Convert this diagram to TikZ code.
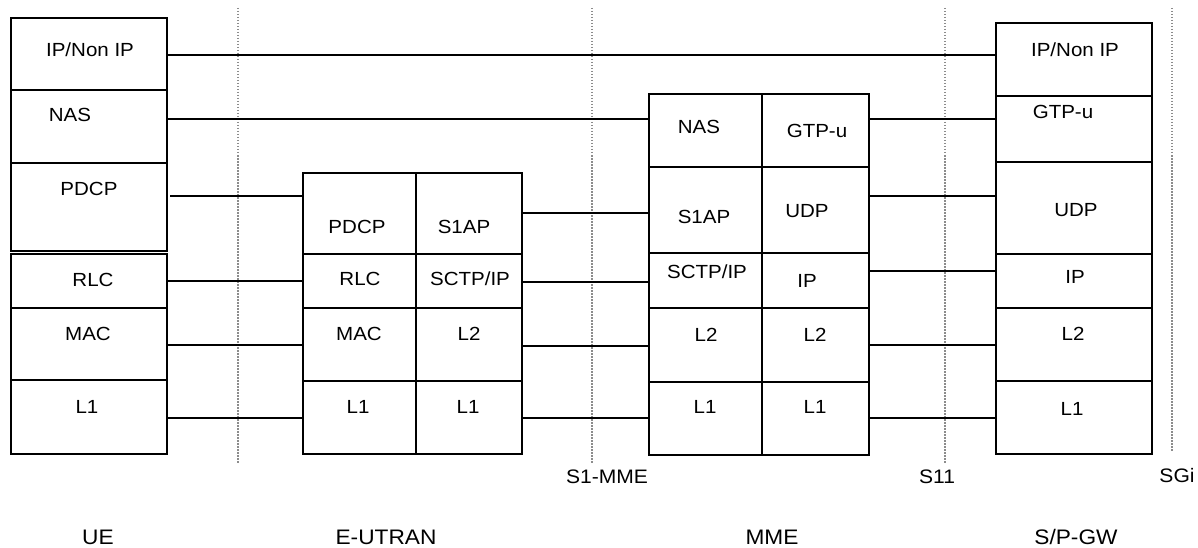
\documentclass[tikz,border=0pt]{standalone}
\usepackage{fontspec}
\setmainfont{Liberation Sans}[FakeStretch=1.08]
\begin{document}
\begin{tikzpicture}[x=1pt,y=-1pt,
  cell/.style={draw, line width=1.7pt, inner sep=0pt, outer sep=0pt, anchor=north west},
  txt/.style={anchor=base, inner sep=0pt, font=\fontsize{19}{19}\selectfont},
  iflabel/.style={anchor=base, inner sep=0pt, font=\fontsize{19.5}{20}\selectfont},
  nelabel/.style={anchor=base, inner sep=0pt, font=\fontsize{21}{22}\selectfont},
  conn/.style={line width=1.4pt},
  refline/.style={line width=2.2pt, draw=black!45, dash pattern=on 1.5pt off 1.5pt}]
\useasboundingbox (0,0) rectangle (1198,548);
% reference points (dotted lines)
\coordinate (d1t) at (238,8);  \coordinate (d1b) at (238,463);
\coordinate (d2t) at (592,8);  \coordinate (d2b) at (592,463);
\coordinate (d3t) at (945,8);  \coordinate (d3b) at (945,464);
\coordinate (d4t) at (1172,8); \coordinate (d4b) at (1172,452);
\draw[refline] (d1t) -- (d1b);
\draw[refline] (d2t) -- (d2b);
\draw[refline] (d3t) -- (d3b);
\draw[refline] (d4t) -- (d4b);
% UE
\node[cell, minimum width=156pt, minimum height=72pt] (ueIP)   at (11,18)  {};
\node[cell, minimum width=156pt, minimum height=73pt] (ueNAS)  at (11,90)  {};
\node[cell, minimum width=156pt, minimum height=88pt] (uePDCP) at (11,163) {};
\node[cell, minimum width=156pt, minimum height=54pt] (ueRLC)  at (11,254) {};
\node[cell, minimum width=156pt, minimum height=72pt] (ueMAC)  at (11,308) {};
\node[cell, minimum width=156pt, minimum height=74pt] (ueL1)   at (11,380) {};
% E-UTRAN
\node[cell, minimum width=113pt, minimum height=81pt] (enPDCP) at (303,173) {};
\node[cell, minimum width=106pt, minimum height=81pt] (enS1AP) at (416,173) {};
\node[cell, minimum width=113pt, minimum height=54pt] (enRLC)  at (303,254) {};
\node[cell, minimum width=106pt, minimum height=54pt] (enSCTP) at (416,254) {};
\node[cell, minimum width=113pt, minimum height=73pt] (enMAC)  at (303,308) {};
\node[cell, minimum width=106pt, minimum height=73pt] (enL2)   at (416,308) {};
\node[cell, minimum width=113pt, minimum height=73pt] (enL1)   at (303,381) {};
\node[cell, minimum width=106pt, minimum height=73pt] (enL1b)  at (416,381) {};
% MME
\node[cell, minimum width=113pt, minimum height=73pt] (mmNAS)  at (649,94)  {};
\node[cell, minimum width=107pt, minimum height=73pt] (mmGTP)  at (762,94)  {};
\node[cell, minimum width=113pt, minimum height=86pt] (mmS1AP) at (649,167) {};
\node[cell, minimum width=107pt, minimum height=86pt] (mmUDP)  at (762,167) {};
\node[cell, minimum width=113pt, minimum height=55pt] (mmSCTP) at (649,253) {};
\node[cell, minimum width=107pt, minimum height=55pt] (mmIP)   at (762,253) {};
\node[cell, minimum width=113pt, minimum height=74pt] (mmL2)   at (649,308) {};
\node[cell, minimum width=107pt, minimum height=74pt] (mmL2b)  at (762,308) {};
\node[cell, minimum width=113pt, minimum height=73pt] (mmL1)   at (649,382) {};
\node[cell, minimum width=107pt, minimum height=73pt] (mmL1b)  at (762,382) {};
% S/P-GW
\node[cell, minimum width=156pt, minimum height=73pt] (gwIP)   at (996,23)  {};
\node[cell, minimum width=156pt, minimum height=66pt] (gwGTP)  at (996,96)  {};
\node[cell, minimum width=156pt, minimum height=92pt] (gwUDP)  at (996,162) {};
\node[cell, minimum width=156pt, minimum height=54pt] (gwIP2)  at (996,254) {};
\node[cell, minimum width=156pt, minimum height=73pt] (gwL2)   at (996,308) {};
\node[cell, minimum width=156pt, minimum height=73pt] (gwL1)   at (996,381) {};
% texts UE
\node[txt] (tueIP)   at (90,57)  {IP/Non IP};
\node[txt] (tueNAS)  at (70,122) {NAS};
\node[txt] (tuePDCP) at (89,195) {PDCP};
\node[txt] (tueRLC)  at (93,286) {RLC};
\node[txt] (tueMAC)  at (88,340) {MAC};
\node[txt] (tueL1)   at (87,413) {L1};
% texts E-UTRAN
\node[txt] (tenPDCP) at (357,233) {PDCP};
\node[txt] (tenS1AP) at (464,233) {S1AP};
\node[txt] (tenRLC)  at (360,285) {RLC};
\node[txt] (tenSCTP) at (470,285) {SCTP/IP};
\node[txt] (tenMAC)  at (359,340) {MAC};
\node[txt] (tenL2)   at (469,340) {L2};
\node[txt] (tenL1)   at (358,413) {L1};
\node[txt] (tenL1b)  at (468,413) {L1};
% texts MME
\node[txt] (tmmNAS)  at (699,134) {NAS};
\node[txt] (tmmGTP)  at (817,138) {GTP-u};
\node[txt] (tmmS1AP) at (704,223) {S1AP};
\node[txt] (tmmUDP)  at (807,217) {UDP};
\node[txt] (tmmSCTP) at (707,278) {SCTP/IP};
\node[txt] (tmmIP)   at (807,287) {IP};
\node[txt] (tmmL2)   at (706,341) {L2};
\node[txt] (tmmL2b)  at (815,341) {L2};
\node[txt] (tmmL1)   at (705,413) {L1};
\node[txt] (tmmL1b)  at (815,413) {L1};
% texts S/P-GW
\node[txt] (tgwIP)   at (1075,57)  {IP/Non IP};
\node[txt] (tgwGTP)  at (1063,119) {GTP-u};
\node[txt] (tgwUDP)  at (1076,216) {UDP};
\node[txt] (tgwIP2)  at (1075,283) {IP};
\node[txt] (tgwL2)   at (1073,340) {L2};
\node[txt] (tgwL1)   at (1072,415) {L1};
% connectors
\draw[conn] (ueIP.east |- 0,55) -- (gwIP.west |- 0,55);
\draw[conn] (ueNAS.east |- 0,119) -- (mmNAS.west |- 0,119);
\draw[conn, shorten <=3pt] (uePDCP.east |- 0,196) -- (enPDCP.west |- 0,196);
\draw[conn] (ueRLC.east |- 0,281) -- (enRLC.west |- 0,281);
\draw[conn] (ueMAC.east |- 0,345) -- (enMAC.west |- 0,345);
\draw[conn] (ueL1.east |- 0,418) -- (enL1.west |- 0,418);
\draw[conn] (enS1AP.east |- 0,213) -- (mmS1AP.west |- 0,213);
\draw[conn] (enSCTP.east |- 0,282) -- (mmSCTP.west |- 0,282);
\draw[conn] (enL2.east |- 0,346) -- (mmL2.west |- 0,346);
\draw[conn] (enL1b.east |- 0,418) -- (mmL1.west |- 0,418);
\draw[conn] (mmGTP.east |- 0,119) -- (gwGTP.west |- 0,119);
\draw[conn] (mmUDP.east |- 0,196) -- (gwUDP.west |- 0,196);
\draw[conn] (mmIP.east |- 0,271) -- (gwIP2.west |- 0,271);
\draw[conn] (mmL2b.east |- 0,345) -- (gwL2.west |- 0,345);
\draw[conn] (mmL1b.east |- 0,418) -- (gwL1.west |- 0,418);
% interface labels
\node[iflabel] (lS1) at (607,483) {S1-MME};
\node[iflabel] (lS11) at (937,483) {S11};
\node[iflabel] (lSGi) at (1177,482) {SGi};
% network element labels
\node[nelabel] (lUE)  at (98,544)  {UE};
\node[nelabel] (lEN)  at (386,544) {E-UTRAN};
\node[nelabel] (lMME) at (772,544) {MME};
\node[nelabel] (lGW)  at (1076,544) {S/P-GW};
\end{tikzpicture}
\end{document}
